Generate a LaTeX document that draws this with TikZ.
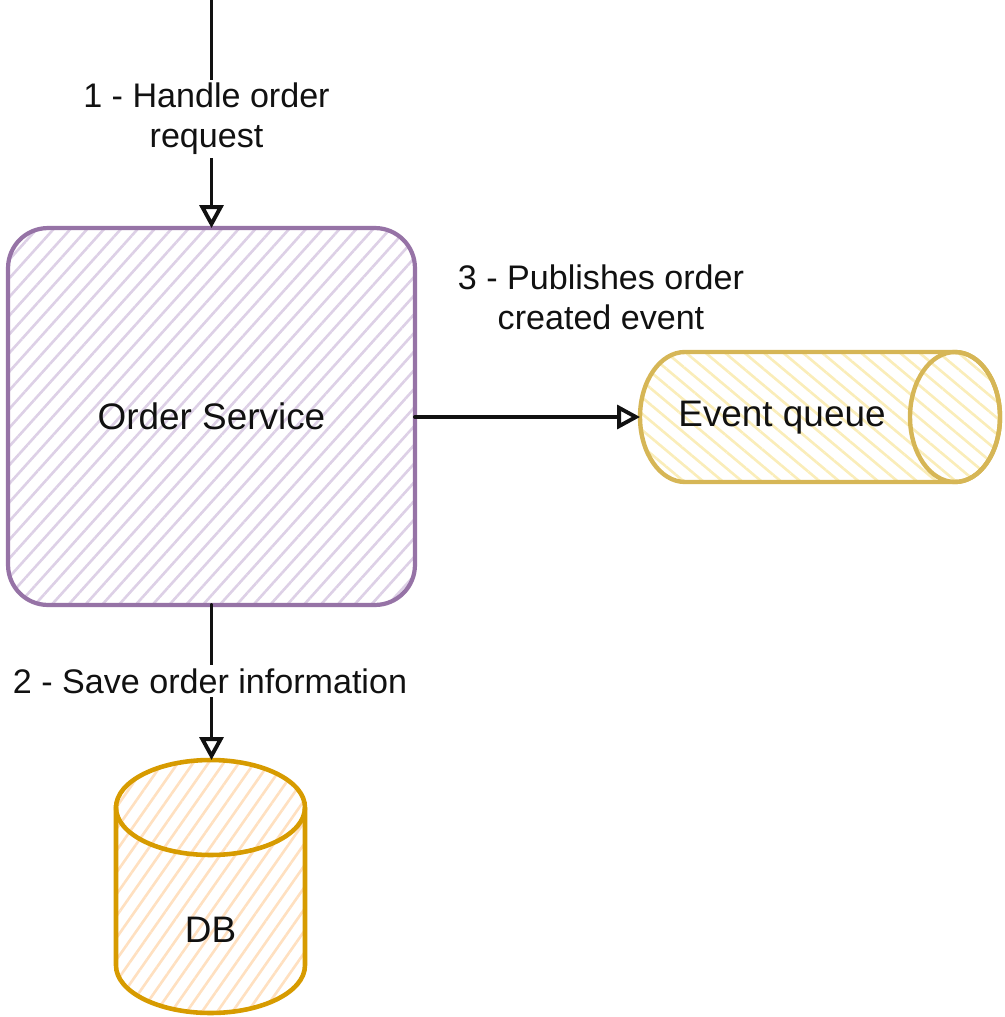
\documentclass[tikz,border=0pt]{standalone}
\usepackage{fontspec}
\setmainfont{Liberation Sans}
\usetikzlibrary{arrows.meta,patterns.meta}
\definecolor{osdraw}{HTML}{9673A6}
\definecolor{oshatch}{HTML}{DDD0E6}
\definecolor{eqdraw}{HTML}{D6B656}
\definecolor{eqhatch}{HTML}{FAEDB9}
\definecolor{dbdraw}{HTML}{D79B00}
\definecolor{dbhatch}{HTML}{FFE0C0}
\definecolor{ink}{HTML}{111111}
\tikzset{
  nodetext/.style={font=\fontsize{21pt}{24pt}\selectfont, text=ink},
  lbl/.style={font=\fontsize{19.4pt}{22.7pt}\selectfont, text=ink, align=center, fill=white, inner sep=2pt},
  arr/.style={draw=ink, line width=2.2pt, line cap=round, -{Triangle[open, length=13pt, width=13.5pt]}},
  frame/.style={inner sep=0pt, outer sep=0pt},
  osbox/.style={frame, nodetext, draw=osdraw, line width=2.4pt, rounded corners=0.8cm,
    pattern={Lines[angle=48, distance=0.25cm, line width=1.5pt]}, pattern color=oshatch},
  eqshape/.style={draw=eqdraw, line width=2.5pt,
    pattern={Lines[angle=-40, distance=0.25cm, line width=1.5pt]}, pattern color=eqhatch},
  dbshape/.style={draw=dbdraw, line width=2.6pt,
    pattern={Lines[angle=55, distance=0.25cm, line width=1.5pt]}, pattern color=dbhatch},
}
\begin{document}
\begin{tikzpicture}[x=0.02cm, y=-0.02cm]
\useasboundingbox (0,0) rectangle (1004,1017);

% Order Service
\node[osbox, minimum width=8.14cm, minimum height=7.54cm] (os) at (211.5,416.5) {Order Service};

% Event queue (horizontal cylinder)
\node[frame, minimum width=7.2cm, minimum height=2.6cm] (eq) at (820,417) {};
\path[eqshape] (955,352) -- (685,352)
  arc[start angle=90, end angle=270, x radius=0.9cm, y radius=1.3cm]
  -- (955,482)
  arc[start angle=-90, end angle=90, x radius=0.9cm, y radius=1.3cm] -- cycle;
\draw[eqdraw, line width=2.5pt] (955,417) ellipse [x radius=0.9cm, y radius=1.3cm];
\node[nodetext] (eqt) at (782,418) {Event queue};

% DB (vertical cylinder)
\node[frame, minimum width=3.78cm, minimum height=5.06cm] (db) at (210.5,886.5) {};
\path[dbshape] (116,807.5) -- (116,965.5)
  arc[start angle=180, end angle=360, x radius=1.89cm, y radius=0.95cm]
  -- (305,807.5)
  arc[start angle=0, end angle=180, x radius=1.89cm, y radius=0.95cm] -- cycle;
\draw[dbdraw, line width=2.6pt] (116,807.5)
  arc[start angle=180, end angle=360, x radius=1.89cm, y radius=0.95cm];
\node[nodetext] (dbt) at (210.5,930) {DB};

% Connectors
\coordinate (in) at (os.north |- 0,0);
\draw[arr] (in) -- (os.north);
\node[lbl] (l1) at (206.5,119) {1 - Handle order\\request};

\draw[arr] (os.south) -- (os.south |- db.north);
\node[lbl, anchor=base] (l2) at (210,693) {2 - Save order information};

\draw[arr] (os.east |- eq.west) -- (eq.west);
\node[lbl, fill=none] (l3) at (601,297.6) {3 - Publishes order\\created event};
\end{tikzpicture}
\end{document}
